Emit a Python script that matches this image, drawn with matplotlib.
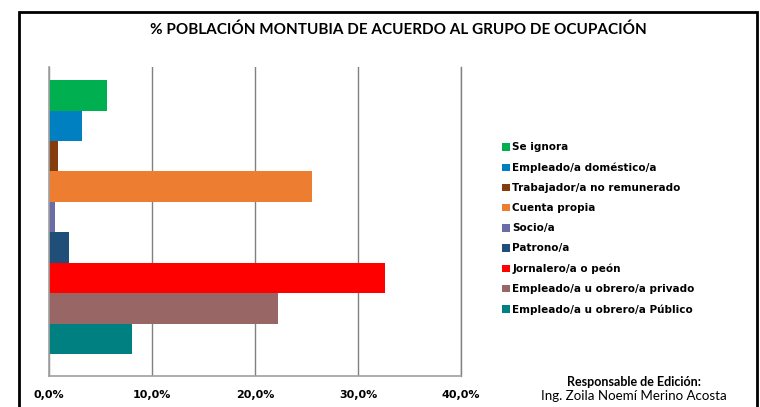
import matplotlib.pyplot as plt
from matplotlib.patches import Rectangle, Patch
from matplotlib.ticker import FuncFormatter

# Grupos de ocupación (orden de arriba hacia abajo)
categorias = [
    "Se ignora",
    "Empleado/a doméstico/a",
    "Trabajador/a no remunerado",
    "Cuenta propia",
    "Socio/a",
    "Patrono/a",
    "Jornalero/a o peón",
    "Empleado/a u obrero/a privado",
    "Empleado/a u obrero/a Público",
]
porcentajes = [5.6, 3.2, 0.9, 25.5, 0.6, 1.9, 32.6, 22.2, 8.1]
colores = ["#00B050", "#0080C0", "#843C0C", "#ED7D31", "#6B6BA8",
           "#1F4E79", "#FF0000", "#996666", "#008080"]
ticks_x = [0, 10, 20, 30, 40]

fig = plt.figure(figsize=(7.6, 4.07), dpi=100)
ax = fig.add_axes([0.0645, 0.0762, 0.5421, 0.7592])

pos = list(range(len(categorias)))
ax.barh(pos, porcentajes, height=1.0, color=colores, edgecolor="none")

ax.set_xlim(0, 40)
ax.set_ylim(9.22, -0.93)
ax.set_xticks(ticks_x)
ax.xaxis.set_major_formatter(FuncFormatter(lambda v, p: f"{v:.1f}%".replace(".", ",")))
ax.tick_params(axis="x", length=0, pad=10, labelsize=8)
for lab in ax.get_xticklabels():
    lab.set_fontweight("bold")
ax.set_yticks([])
ax.grid(axis="x", color="#808080", linewidth=1)
ax.set_axisbelow(True)
ax.spines["top"].set_visible(False)
ax.spines["right"].set_color("#808080")
ax.spines["right"].set_linewidth(1)
for s in ["left", "bottom"]:
    ax.spines[s].set_color("#A0A0A0")
    ax.spines[s].set_linewidth(1.2)

# Título
fig.text(0.524, 0.926, "% POBLACIÓN MONTUBIA DE ACUERDO AL GRUPO DE OCUPACIÓN",
         ha="center", va="center", fontsize=11, fontweight="bold", family="Lato")

# Leyenda
handles = [Patch(facecolor=c, edgecolor="none") for c in colores]
fig.legend(handles, categorias, loc="upper left", bbox_to_anchor=(0.661, 0.65),
           frameon=False, prop={"size": 7.5, "weight": "bold"},
           handlelength=0.75, handleheight=0.75, handletextpad=0.2,
           labelspacing=0.97, borderaxespad=0, borderpad=0)

# Responsable
fig.text(0.834, 0.062, "Responsable de Edición:", ha="center", va="center",
         fontsize=9, fontweight="bold", family="Lato")
fig.text(0.834, 0.027, "Ing. Zoila Noemí Merino Acosta", ha="center", va="center",
         fontsize=9.6, family="Lato")

# Marco exterior
fig.patches.append(Rectangle((19 / 760, -0.1), 738 / 760, 1.1 - 12 / 407,
                             transform=fig.transFigure, fill=False,
                             edgecolor="black", linewidth=2, clip_on=False))

fig.savefig("out.png", dpi=100)
